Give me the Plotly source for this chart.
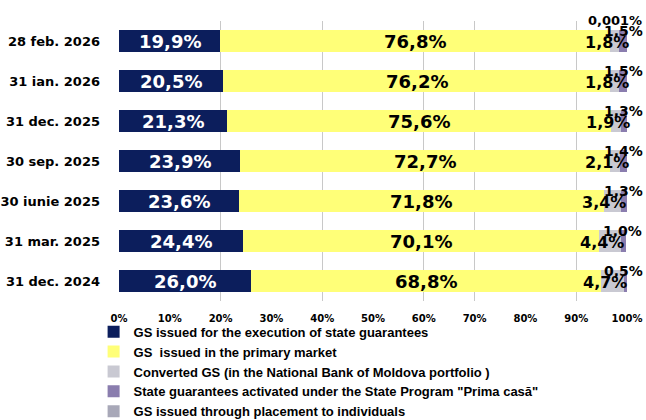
import plotly.graph_objects as go

categories = ["28 feb. 2026", "31 ian. 2026", "31 dec. 2025", "30 sep. 2025",
              "30 iunie 2025", "31 mar. 2025", "31 dec. 2024"]
guarantees = [19.9, 20.5, 21.3, 23.9, 23.6, 24.4, 26.0]
primary = [76.8, 76.2, 75.6, 72.7, 71.8, 70.1, 68.8]
converted = [1.8, 1.8, 1.9, 2.1, 3.4, 4.4, 4.7]
prima_casa = [1.5, 1.5, 1.3, 1.4, 1.3, 1.0, 0.5]
individuals = [0.001, 0, 0, 0, 0, 0, 0]
individuals_labels = ["0,001%", "", "", "", "", "", ""]

series_names = [
    "GS issued for the execution of state guarantees",
    "GS  issued in the primary market",
    "Converted GS (in the National Bank of Moldova portfolio )",
    "State guarantees activated under the State Program \"Prima casă\"",
    "GS issued through placement to individuals",
]
colors = ["#0C1E5C", "#FFFF78", "#C9C9D2", "#8A7DAE", "#A8A8B8"]


def pct(v):
    return f"{v:.1f}%".replace(".", ",")


LABEL_FONT = "DejaVu Sans"
fig = go.Figure()

for vals, name, col in zip([guarantees, primary, converted, prima_casa, individuals],
                           series_names, colors):
    fig.add_trace(go.Bar(
        y=categories, x=vals, orientation="h", name=name,
        marker=dict(color=col, line=dict(width=0)), textposition="none",
    ))

annotations = []
for i, cat in enumerate(categories):
    annotations.append(dict(
        x=guarantees[i] / 2, y=cat, xref="x", yref="y", text=pct(guarantees[i]),
        showarrow=False, xanchor="center",
        font=dict(family=LABEL_FONT, size=18, color="white", weight="bold"),
    ))
    annotations.append(dict(
        x=guarantees[i] + primary[i] / 2, y=cat, xref="x", yref="y", text=pct(primary[i]),
        showarrow=False, xanchor="center",
        font=dict(family=LABEL_FONT, size=18, color="black", weight="bold"),
    ))
    conv_center = guarantees[i] + primary[i] + converted[i] / 2
    annotations.append(dict(
        x=conv_center, y=cat, xref="x", yref="y", text=pct(converted[i]),
        showarrow=False, xanchor="center", xshift=-8, yshift=-1,
        font=dict(family=LABEL_FONT, size=16, color="black", weight="bold"),
    ))
    end = min(100, guarantees[i] + primary[i] + converted[i] + prima_casa[i] + individuals[i])
    annotations.append(dict(
        x=end, y=cat, xref="x", yref="y", text=pct(prima_casa[i]),
        showarrow=False, xanchor="center", xshift=-4, yshift=10,
        font=dict(family=LABEL_FONT, size=14, color="black", weight="bold"),
    ))
    if individuals_labels[i]:
        annotations.append(dict(
            x=end, y=cat, xref="x", yref="y", text=individuals_labels[i],
            showarrow=False, xanchor="center", xshift=-12, yshift=21,
            font=dict(family=LABEL_FONT, size=13, color="black", weight="bold"),
        ))

fig.update_layout(
    barmode="stack",
    bargap=0.46,
    width=646, height=420,
    margin=dict(l=118.5, r=18.5, t=21, b=119, autoexpand=False),
    paper_bgcolor="white", plot_bgcolor="white",
    annotations=annotations,
    showlegend=True,
    legend=dict(
        orientation="v", x=-0.05, y=-0.056, xanchor="left", yanchor="top",
        font=dict(family="Liberation Sans", size=13, color="black", weight="bold"),
        traceorder="normal", itemwidth=30, tracegroupgap=0,
        bgcolor="rgba(0,0,0,0)",
    ),
    xaxis=dict(
        range=[0, 100], tickvals=[0, 10, 20, 30, 40, 50, 60, 70, 80, 90, 100],
        ticktext=["0%", "10%", "20%", "30%", "40%", "50%", "60%", "70%", "80%", "90%", "100%"],
        showgrid=False, zeroline=False, showline=False, ticks="",
        ticklabelstandoff=10,
        tickfont=dict(family=LABEL_FONT, size=10, color="black", weight="bold"),
        minor=dict(tickvals=[20, 40, 60, 70, 90], showgrid=True,
                   gridcolor="#C8C8C8", gridwidth=1, ticks=""),
    ),
    yaxis=dict(
        categoryorder="array", categoryarray=categories, autorange="reversed",
        showgrid=False, zeroline=False, showline=False, ticks="",
        ticklabelstandoff=18,
        tickfont=dict(family=LABEL_FONT, size=13, color="black", weight="bold"),
    ),
)

fig.write_html("out.html", config={"displayModeBar": False},
               post_script="document.body.style.margin='0';")
